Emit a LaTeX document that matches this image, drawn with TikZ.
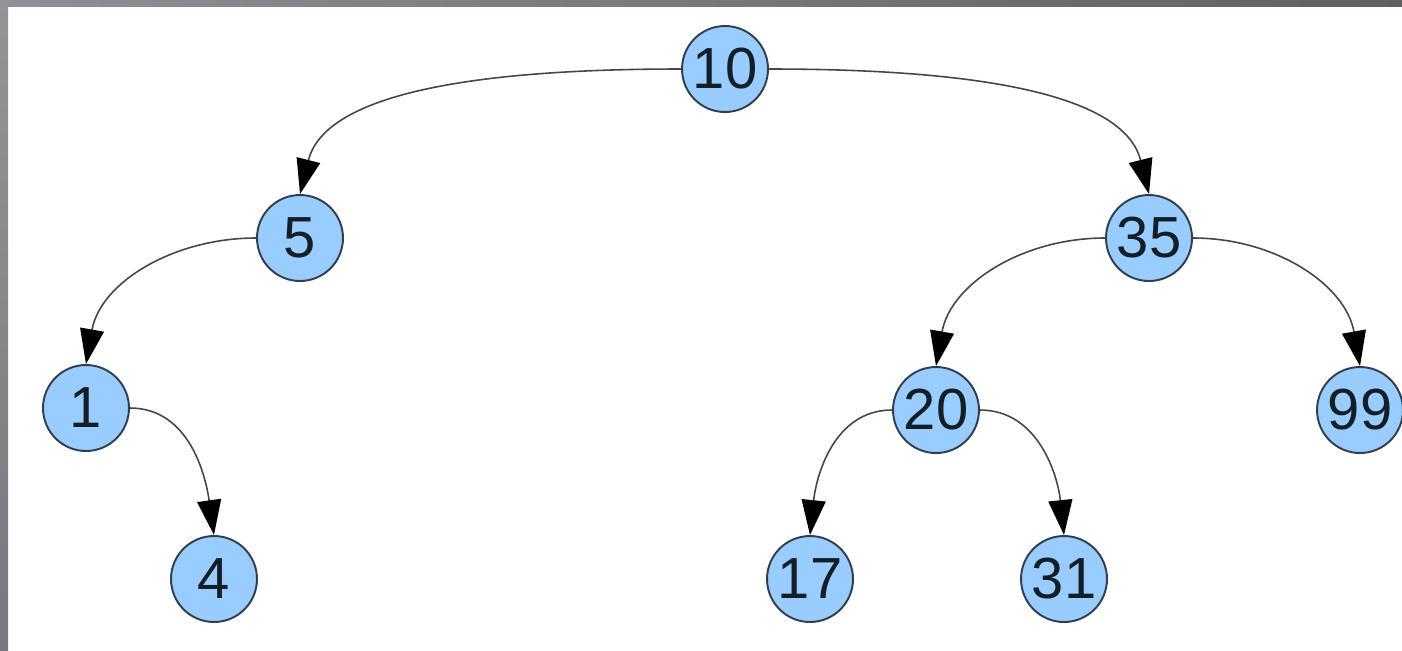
\documentclass[tikz,border=0pt]{standalone}
\usepackage{fontspec}
\setmainfont{Liberation Sans}
\usetikzlibrary{arrows.meta}
\definecolor{nodefill}{RGB}{153,204,255}
\definecolor{nodeline}{RGB}{50,62,76}
\definecolor{nodetext}{RGB}{18,30,40}
\definecolor{edgecol}{RGB}{70,70,70}
\definecolor{barA}{RGB}{146,141,150}
\definecolor{barB}{RGB}{100,93,101}
\definecolor{barC}{RGB}{150,146,153}
\definecolor{barD}{RGB}{122,119,128}
\begin{document}
\begin{tikzpicture}[x=0.02cm,y=-0.02cm,
  tnode/.style={circle,draw=nodeline,fill=nodefill,line width=1.1pt,
    minimum size=1.72cm,inner sep=0pt,text=nodetext,
    font=\fontsize{33}{33}\selectfont},
  edge/.style={draw=edgecol,line width=0.9pt,
    -{Triangle[length=0.7cm,width=0.48cm,black]}}]
\useasboundingbox (0,0) rectangle (1402,650);
\fill[white] (0,0) rectangle (1402,650);
\shade[left color=barA,right color=barB] (0,0) rectangle (1402,6);
\shade[top color=barC,bottom color=barD] (0,0) rectangle (8,650);

\node[tnode] (n10) at (725,69) {10};
\node[tnode] (n5) at (300,238) {5};
\node[tnode] (n35) at (1149,238) {35};
\node[tnode] (n1) at (86,408) {1};
\node[tnode] (n20) at (936,410) {20};
\node[tnode] (n99) at (1360,410) {99};
\node[tnode] (n4) at (214,579) {4};
\node[tnode] (n17) at (810,579) {17};
\node[tnode] (n31) at (1064,579) {31};

\draw[edge] (n10.west) to[out=180,in=76,out distance=3.1cm,in distance=2.3cm] (n5.north);
\draw[edge] (n10.east) to[out=0,in=104,out distance=3.1cm,in distance=2.3cm] (n35.north);
\draw[edge] (n5.west) to[out=180,in=80] (n1.north);
\draw[edge] (n1.east) to[out=0,in=98] (n4.north);
\draw[edge] (n35.west) to[out=180,in=80] (n20.north);
\draw[edge] (n35.east) to[out=0,in=100] (n99.north);
\draw[edge] (n20.west) to[out=180,in=84] (n17.north);
\draw[edge] (n20.east) to[out=0,in=96] (n31.north);
\end{tikzpicture}
\end{document}
